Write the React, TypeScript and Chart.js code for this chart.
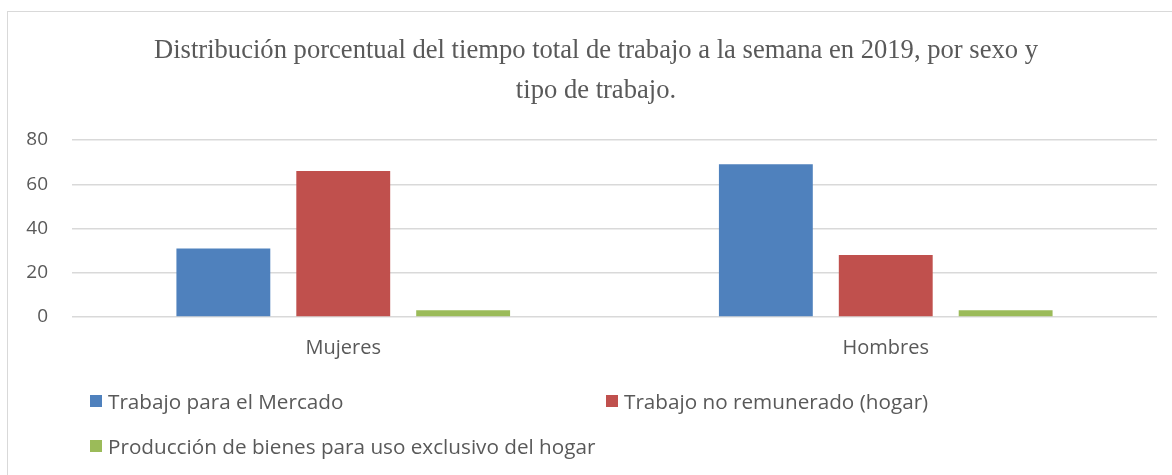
import React, { useEffect, useRef } from "react";
import { Chart, registerables } from "chart.js";

Chart.register(...registerables);

const titleLines = [
  "Distribución porcentual del tiempo total de trabajo a la semana en 2019, por sexo y",
  "tipo de trabajo.",
];
const categories = ["Mujeres", "Hombres"];
const seriesLabels = [
  "Trabajo para el Mercado",
  "Trabajo no remunerado (hogar)",
  "Producción de bienes para uso exclusivo del hogar",
];
const mercado = [31, 69];
const noRemunerado = [66, 28];
const produccion = [3, 3];
const seriesColors = ["#4F81BD", "#C0504D", "#9BBB59"];
const yTicks = [0, 20, 40, 60, 80];

const TEXT = "#595959";
const SANS = "'Open Sans', 'DejaVu Sans', sans-serif";
const SERIF = "'Liberation Serif', 'Times New Roman', serif";

export default function App() {
  const canvasRef = useRef<HTMLCanvasElement | null>(null);

  useEffect(() => {
    if (!canvasRef.current) return;
    const values = [mercado, noRemunerado, produccion];
    const chart = new Chart(canvasRef.current, {
      type: "bar",
      data: {
        labels: categories,
        datasets: seriesLabels.map((label, i) => ({
          label,
          data: values[i],
          backgroundColor: seriesColors[i],
          borderWidth: 0,
          categoryPercentage: 0.663,
          barPercentage: 0.783,
        })),
      },
      options: {
        responsive: false,
        animation: false,
        layout: { padding: { left: 0, right: 15, top: 140, bottom: 108 } },
        plugins: {
          legend: { display: false },
          title: { display: false },
          tooltip: { enabled: false },
        },
        scales: {
          x: {
            grid: { display: false, drawTicks: false },
            border: { display: false },
            ticks: {
              color: TEXT,
              font: { family: SANS, size: 20 },
              padding: 19,
            },
            afterFit: (scale: any) => {
              scale.height = 50;
            },
          },
          y: {
            min: 0,
            max: 80,
            afterBuildTicks: (scale: any) => {
              scale.ticks = yTicks.map((v) => ({ value: v }));
            },
            grid: { color: "#d9d9d9", lineWidth: 1.5, drawTicks: false },
            border: { display: false },
            ticks: {
              color: TEXT,
              font: { family: SANS, size: 19 },
              padding: 24,
            },
            afterFit: (scale: any) => {
              scale.width = 72;
            },
          },
        },
      },
    });
    return () => chart.destroy();
  }, []);

  const legendItem = (i: number, left: number, top: number) => (
    <div
      key={i}
      style={{
        position: "absolute",
        left,
        top,
        display: "flex",
        alignItems: "center",
        height: 26,
        whiteSpace: "nowrap",
      }}
    >
      <span
        style={{
          display: "inline-block",
          width: 12,
          height: 12,
          background: seriesColors[i],
          marginRight: 6,
        }}
      />
      <span style={{ fontFamily: SANS, fontSize: 20.7, color: TEXT, lineHeight: "26px" }}>
        {seriesLabels[i]}
      </span>
    </div>
  );

  return (
    <div
      style={{
        position: "fixed",
        left: 0,
        top: 0,
        width: 1172,
        height: 475,
        overflow: "hidden",
        background: "#fff",
      }}
    >
      <div
        style={{
          position: "absolute",
          left: 7,
          top: 11,
          width: 1200,
          height: 520,
          border: "1.5px solid #d9d9d9",
          boxSizing: "border-box",
        }}
      />
      <canvas
        ref={canvasRef}
        width={1172}
        height={475}
        style={{ position: "absolute", left: 0, top: 0 }}
      />
      <div
        style={{
          position: "absolute",
          left: 0,
          top: 29,
          width: 1192,
          textAlign: "center",
          fontFamily: SERIF,
          fontSize: 26.6,
          lineHeight: "40px",
          color: TEXT,
        }}
      >
        {titleLines.map((t, i) => (
          <div key={i}>{t}</div>
        ))}
      </div>
      {legendItem(0, 90, 388)}
      {legendItem(1, 606, 388)}
      {legendItem(2, 90, 433)}
    </div>
  );
}
